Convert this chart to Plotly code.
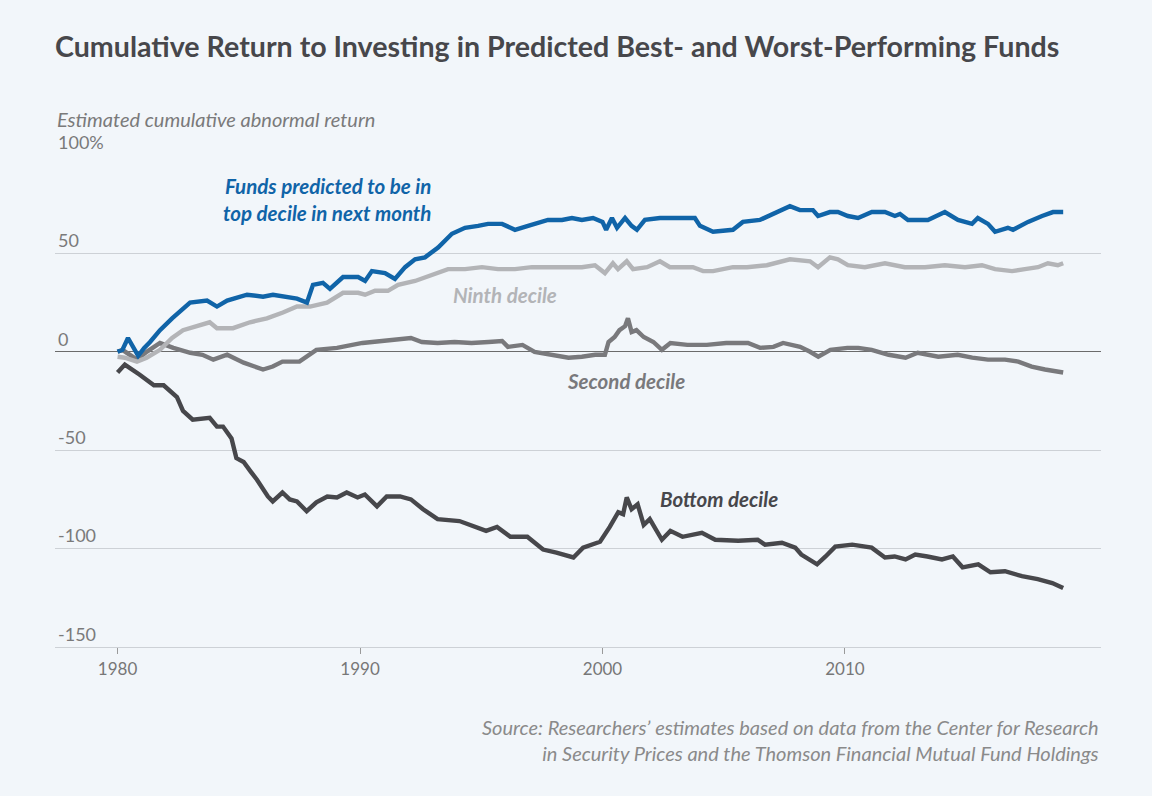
import plotly.graph_objects as go

# ---- data ----
top_years = [1980.0, 1980.2, 1980.43, 1980.6, 1980.85, 1981.1, 1981.34, 1981.75, 1982.25, 1982.99,
             1983.69, 1984.10, 1984.52, 1985.34, 1986.0, 1986.41, 1987.40, 1987.81, 1988.06, 1988.47,
             1988.76, 1989.30, 1989.92, 1990.21, 1990.49, 1991.03, 1991.44, 1991.86, 1992.27, 1992.68,
             1993.22, 1993.79, 1994.33, 1994.87, 1995.28, 1995.86, 1996.39, 1996.93, 1997.75, 1998.33,
             1998.74, 1999.15, 1999.61, 2000.0, 2000.15, 2000.39, 2000.60, 2000.93, 2001.2, 2001.42,
             2001.75, 2002.37, 2003.20, 2003.81, 2004.02, 2004.56, 2005.38, 2005.79, 2006.49, 2007.03,
             2007.73, 2008.14, 2008.68, 2008.89, 2009.38, 2009.71, 2010.12, 2010.54, 2011.11, 2011.65,
             2012.06, 2012.27, 2012.60, 2013.42, 2014.12, 2014.66, 2015.24, 2015.48, 2015.90, 2016.19,
             2016.72, 2016.93, 2017.55, 2018.13, 2018.58, 2019.0]
top_values = [0, 1, 7, 3, -2, 2, 5, 11, 17, 25,
              26, 23, 26, 29, 28, 29, 27, 25, 34, 35,
              32, 38, 38, 36, 41, 40, 37, 43, 47, 48,
              53, 60, 63, 64, 65, 65, 62, 64, 67, 67,
              68, 67, 68, 66, 62, 68, 63, 68, 64, 62,
              67, 68, 68, 68, 64, 61, 62, 66, 67, 70,
              74, 72, 72, 69, 71, 71, 69, 68, 71, 71,
              69, 70, 67, 67, 71, 67, 65, 68, 65, 61,
              63, 62, 66, 69, 71, 71]

ninth_years = [1980.0, 1980.3, 1980.8, 1981.2, 1981.75, 1982.25, 1982.7, 1983.53, 1983.8, 1984.1,
               1984.76, 1985.46, 1986.16, 1986.82, 1987.40, 1987.94, 1988.64, 1989.30, 1989.92, 1990.21,
               1990.62, 1991.15, 1991.57, 1992.27, 1992.97, 1993.63, 1994.33, 1995.03, 1995.69, 1996.39,
               1997.09, 1997.75, 1998.45, 1999.15, 1999.69, 2000.02, 2000.1, 2000.43, 2000.64, 2001.0,
               2001.26, 2001.84, 2002.37, 2002.78, 2003.2, 2003.73, 2004.15, 2004.56, 2005.38, 2005.96,
               2006.78, 2007.73, 2008.56, 2008.89, 2009.38, 2009.71, 2010.12, 2010.82, 2011.65, 2012.47,
               2013.3, 2014.12, 2014.95, 2015.65, 2016.19, 2016.89, 2017.42, 2017.96, 2018.37, 2018.78,
               2019.0]
ninth_values = [-2.5, -3, -5, -3, 1, 7, 11, 14, 15, 12,
                12, 15, 17, 20, 23, 23, 25, 30, 30, 29,
                31, 31, 34, 36, 39, 42, 42, 43, 42, 42,
                43, 43, 43, 43, 44, 41, 40, 45, 42, 46,
                42, 43, 46, 43, 43, 43, 41, 41, 43, 43,
                44, 47, 46, 43, 48, 47, 44, 43, 45, 43,
                43, 44, 43, 44, 42, 41, 42, 43, 45, 44,
                45]

second_years = [1980.0, 1980.2, 1980.8, 1981.2, 1981.75, 1982.3, 1983.0, 1983.5, 1983.95, 1984.52,
                1985.2, 1985.6, 1986.0, 1986.4, 1986.8, 1987.5, 1987.94, 1988.2, 1989.05, 1989.6,
                1990.1, 1990.5, 1991.15, 1992.1, 1992.55, 1993.2, 1993.9, 1994.6, 1995.3, 1995.86,
                1996.1, 1996.7, 1997.2, 1997.9, 1998.6, 1999.15, 1999.7, 2000.1, 2000.25, 2000.5,
                2000.7, 2000.93, 2001.05, 2001.2, 2001.4, 2001.7, 2002.1, 2002.45, 2002.8, 2003.5,
                2004.3, 2005.1, 2006.0, 2006.5, 2007.05, 2007.45, 2008.15, 2008.56, 2008.9, 2009.4,
                2010.1, 2010.55, 2011.1, 2011.8, 2012.5, 2013.0, 2013.85, 2014.65, 2015.25, 2015.9,
                2016.6, 2017.15, 2017.7, 2018.25, 2018.65, 2019.0]
second_values = [0, 1, -4, 0, 4.5, 2, -0.5, -1.5, -4, -1.5,
                 -5.5, -7.5, -9, -7.5, -5, -5, -1.5, 1, 2, 3.5,
                 4.5, 5, 6, 7, 5, 4.5, 5, 4.5, 5, 5.5,
                 2.5, 3.5, 0, -1.5, -3, -2.5, -1.5, -1.5, 5, 7.5,
                 11, 13, 17, 10, 11, 7.5, 5, 1, 4.5, 3.5,
                 3.5, 4.5, 4.5, 2, 2.5, 4.5, 2.5, 0, -2.5, 1,
                 2, 2, 1, -1.5, -3, -0.5, -2.5, -1.5, -3, -4,
                 -4, -5, -7.5, -9, -9.5, -10.5]

bottom_years = [1980.0, 1980.3, 1980.9, 1981.5, 1981.9, 1982.45, 1982.7, 1983.1, 1983.8, 1984.1,
                1984.35, 1984.7, 1984.9, 1985.2, 1985.5, 1985.75, 1986.2, 1986.4, 1986.8, 1987.1,
                1987.4, 1987.8, 1988.2, 1988.65, 1989.05, 1989.45, 1989.9, 1990.2, 1990.7, 1991.1,
                1991.65, 1992.1, 1992.6, 1993.2, 1994.1, 1994.8, 1995.2, 1995.65, 1996.2, 1996.9,
                1997.55, 1998.1, 1998.8, 1999.2, 1999.9, 2000.3, 2000.65, 2000.85, 2001.0, 2001.2,
                2001.45, 2001.7, 2001.95, 2002.45, 2002.8, 2003.3, 2004.1, 2004.65, 2005.6, 2006.4,
                2006.7, 2007.4, 2007.95, 2008.2, 2008.85, 2009.2, 2009.6, 2010.3, 2010.7, 2011.1,
                2011.65, 2012.05, 2012.5, 2012.9, 2013.4, 2014.0, 2014.45, 2014.85, 2015.5, 2016.0,
                2016.6, 2017.3, 2017.95, 2018.55, 2019.0]
bottom_values = [-10.5, -6.5, -11.5, -17, -17, -23, -30, -34.5, -33.5, -38,
                 -38, -44, -54, -56, -61, -65, -73.5, -76, -71.5, -75,
                 -76, -81, -76.5, -73.5, -74, -71.5, -74, -72.5, -78.5, -73.5,
                 -73.5, -75, -80, -85, -86, -89, -91, -89, -94, -94,
                 -100.5, -102, -104.5, -99.5, -96.5, -89, -81.5, -82.5, -74, -80,
                 -77.5, -88, -85, -95.5, -91, -94, -92, -95.5, -96, -95.5,
                 -98, -97, -99.5, -103, -108, -104, -99, -98, -99, -99.5,
                 -104.5, -104, -105.5, -103, -104, -105.5, -104, -109.5, -108, -112,
                 -111.5, -114, -115.5, -117.5, -120]

x_ticks = [1980, 1990, 2000, 2010]
y_ticks = [-150, -100, -50, 0, 50, 100]
y_tick_labels = ["-150", "-100", "-50", "0", "50", "100%"]

# ---- styling ----
BG = "#f2f6fa"
BLUE = "#1064a8"
LIGHT = "#b3b4b7"
MID = "#79797c"
DARK = "#47474b"
FONT = "Lato, Roboto, sans-serif"

fig = go.Figure()
for xs, ys, col in [(bottom_years, bottom_values, DARK),
                    (second_years, second_values, MID),
                    (ninth_years, ninth_values, LIGHT),
                    (top_years, top_values, BLUE)]:
    fig.add_trace(go.Scatter(x=xs, y=ys, mode="lines",
                             line=dict(color=col, width=4.4),
                             hoverinfo="skip", showlegend=False))

fig.update_layout(
    width=1152, height=796,
    paper_bgcolor=BG, plot_bgcolor=BG,
    margin=dict(l=55, r=51, t=155, b=149),
    font=dict(family=FONT, color="#7a7a7a"),
    title=dict(text="Cumulative Return to Investing in Predicted Best- and Worst-Performing Funds",
               x=55 / 1152, xanchor="left", xref="container",
               y=1 - 47 / 796, yanchor="middle", yref="container",
               font=dict(family=FONT, size=28.6, color="#47474b", weight="bold")),
    xaxis=dict(range=[1977.42, 2020.56], tickvals=x_ticks, ticktext=[str(v) for v in x_ticks],
               showgrid=False, zeroline=False, showline=True, linecolor="#cdd1d6", linewidth=1.2,
               ticks="outside", ticklen=6, tickcolor="#9a9a9a", tickwidth=1,
               tickfont=dict(size=17, color="#777777")),
    yaxis=dict(range=[-150, 100], tickvals=y_ticks, ticktext=y_tick_labels,
               showgrid=True, gridcolor="#cdd1d6", gridwidth=1.2,
               zeroline=True, zerolinecolor="#6b6b6b", zerolinewidth=1.2,
               showline=False, ticks="", ticklabelposition="inside top",
               ticklabeloverflow="allow",
               tickfont=dict(size=18, color="#7a7a7a")),
    annotations=[
        dict(text="<i>Estimated cumulative abnormal return</i>", xref="paper", yref="paper",
             x=0, y=(647 - 119) / 492, xanchor="left", yanchor="middle", showarrow=False,
             font=dict(size=20, color="#7a7a7a")),
        dict(text="<i>Source: Researchers’ estimates based on data from the Center for Research<br>"
                  "in Security Prices and the Thomson Financial Mutual Fund Holdings</i>",
             xref="paper", yref="paper", x=1, y=(647 - 740) / 492, xanchor="right",
             yanchor="middle", align="right", showarrow=False,
             font=dict(size=20, color="#8a8a8a")),
        dict(text="<b><i>Funds predicted to be in<br>top decile in next month</i></b>",
             x=1993.01, y=77.4, xanchor="right", yanchor="middle", align="right",
             showarrow=False, font=dict(size=20.5, color=BLUE)),
        dict(text="<b><i>Ninth decile</i></b>", x=1993.75, y=28.9, xanchor="left",
             yanchor="middle", showarrow=False, font=dict(size=20.5, color=LIGHT)),
        dict(text="<b><i>Second decile</i></b>", x=1998.45, y=-14.7, xanchor="left",
             yanchor="middle", showarrow=False, font=dict(size=20.5, color=MID)),
        dict(text="<b><i>Bottom decile</i></b>", x=2002.29, y=-74.6, xanchor="left",
             yanchor="middle", showarrow=False, font=dict(size=20.5, color=DARK)),
    ],
)

fig.write_html("out.html",
               config={"displayModeBar": False},
               post_script="document.body.style.margin='0';"
                           "document.body.style.background='#f2f6fa';")
